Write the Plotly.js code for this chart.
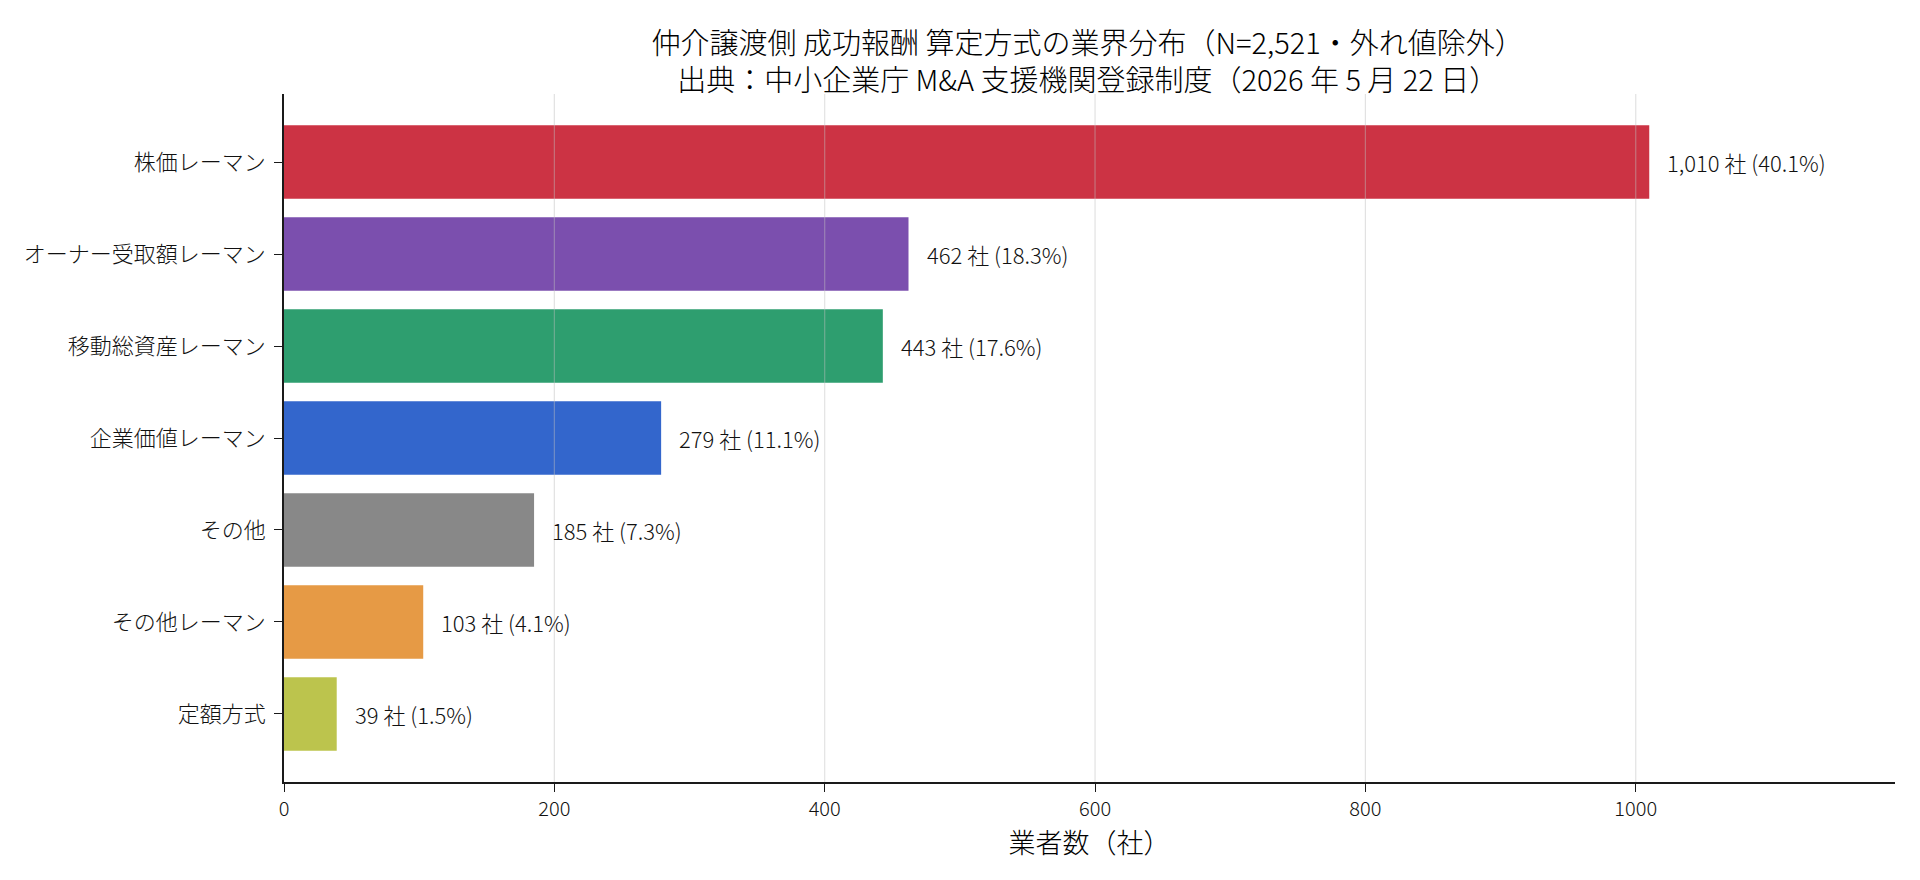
<!DOCTYPE html>
<html>
<head>
<meta charset="utf-8">
<script src="https://cdn.plot.ly/plotly-3.0.1.min.js"></script>
<style>html,body{margin:0;padding:0;background:#fff;}#chart{width:1920px;height:880px;}</style>
</head>
<body>
<div id="chart"></div>
<script>
const categories = ["株価レーマン","オーナー受取額レーマン","移動総資産レーマン","企業価値レーマン","その他","その他レーマン","定額方式"];
const counts = [1010, 462, 443, 279, 185, 103, 39];
const percents = [40.1, 18.3, 17.6, 11.1, 7.3, 4.1, 1.5];
const colors = ["#cc3344","#7b4fae","#2e9e6f","#3366cc","#888888","#e69a45","#bcc44d"];
const xTicks = [0, 200, 400, 600, 800, 1000];

const FONT = '"Noto Sans CJK JP", "Noto Sans", sans-serif';
const fmt = n => n.toLocaleString('en-US');
const labels = counts.map((c, i) => fmt(c) + " 社 (" + percents[i].toFixed(1) + "%)");

const trace = {
  type: 'bar',
  orientation: 'h',
  y: categories,
  x: counts,
  width: 0.8,
  marker: {color: colors, line: {width: 0}},
  hoverinfo: 'x+y'
};

const annotations = counts.map((c, i) => ({
  x: c, y: categories[i], xref: 'x', yref: 'y',
  text: labels[i], showarrow: false,
  xanchor: 'left', yanchor: 'middle', xshift: 16,
  font: {family: FONT, size: 22, weight: 300, color: '#111111'}
}));

const gridShapes = xTicks.filter(v => v > 0).map(v => ({
  type: 'line', xref: 'x', yref: 'paper', x0: v, x1: v, y0: 0, y1: 1,
  layer: 'above', line: {color: 'rgba(190,190,190,0.45)', width: 1.2}
}));

const layout = {
  width: 1920, height: 880,
  paper_bgcolor: '#ffffff', plot_bgcolor: '#ffffff',
  margin: {l: 284, r: 25, t: 94, b: 98},
  font: {family: FONT, color: '#111111', weight: 300},
  title: {
    text: "仲介譲渡側 成功報酬 算定方式の業界分布（N=2,521・外れ値除外）<br>出典：中小企業庁 M&A 支援機関登録制度（2026 年 5 月 22 日）",
    x: 0.5665, xanchor: 'center', y: 0.939, yanchor: 'middle',
    font: {family: FONT, size: 29, weight: 300, color: '#000000'}
  },
  xaxis: {
    range: [0, 1191.8],
    tickvals: xTicks,
    ticktext: xTicks.map(String),
    showgrid: false,
    zeroline: false,
    showline: true, linecolor: '#1a1a1a', linewidth: 1.6,
    ticks: 'outside', ticklen: 8, tickwidth: 1.2, tickcolor: '#1a1a1a',
    tickfont: {family: FONT, size: 20, weight: 300, color: '#111111'},
    title: {text: "業者数（社）", font: {family: FONT, size: 27, weight: 300, color: '#000000'}, standoff: 10},
    fixedrange: true
  },
  yaxis: {
    type: 'category',
    categoryorder: 'array', categoryarray: categories,
    range: [6.74, -0.74],
    showgrid: false, zeroline: false,
    showline: true, linecolor: '#1a1a1a', linewidth: 1.6,
    ticks: 'outside', ticklen: 8, tickwidth: 1.2, tickcolor: '#1a1a1a',
    tickfont: {family: FONT, size: 22, weight: 300, color: '#111111'},
    ticklabelstandoff: 4,
    fixedrange: true
  },
  annotations: annotations,
  shapes: gridShapes,
  showlegend: false,
  bargap: 0.2
};

Plotly.newPlot('chart', [trace], layout, {displayModeBar: false, responsive: false});
</script>
</body>
</html>
